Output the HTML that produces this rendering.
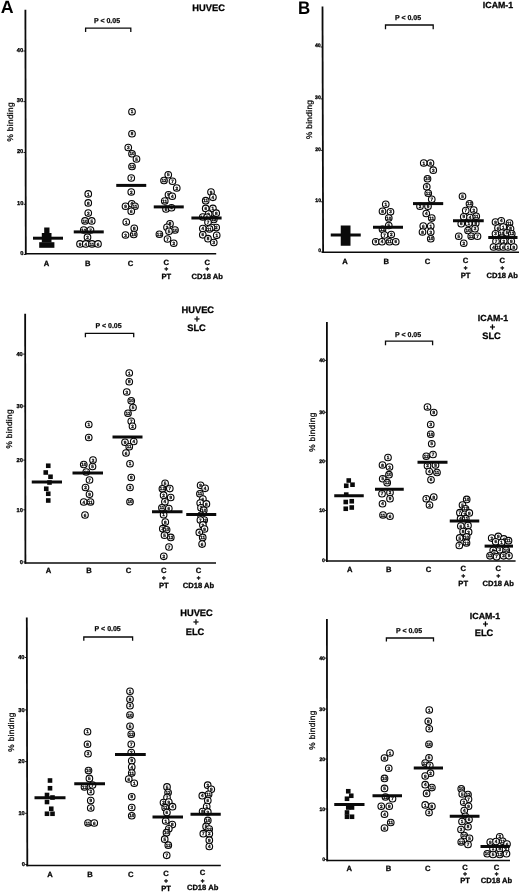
<!DOCTYPE html>
<html lang="en"><head><meta charset="utf-8"><title>Figure</title>
<style>
html,body{margin:0;padding:0;background:#fff;}
body{width:520px;height:892px;overflow:hidden;}
svg{display:block;font-family:"Liberation Sans",sans-serif;text-rendering:geometricPrecision;filter:blur(0.3px);}
.b{font-weight:bold;}
.t{font-size:9.3px;font-weight:bold;text-anchor:middle;stroke:#111;stroke-width:0.3;}
.p{font-size:7px;font-weight:bold;text-anchor:middle;stroke:#111;stroke-width:0.25;}
.x{font-size:7.6px;font-weight:bold;text-anchor:middle;stroke:#111;stroke-width:0.3;}
.k{font-size:5.7px;font-weight:bold;text-anchor:end;fill:#000;stroke:#000;stroke-width:0.3;}
.y{font-size:8.2px;text-anchor:middle;stroke:#111;stroke-width:0.3;letter-spacing:0.37px;}
.n{font-size:4.6px;font-weight:bold;text-anchor:middle;fill:#111;stroke:#111;stroke-width:0.3;}
.c{fill:#fff;stroke:#050505;stroke-width:1.12;}
.ax{stroke:#0a0a0a;fill:none;}
</style></head><body>
<svg width="520" height="892" viewBox="0 0 520 892">
<rect x="0" y="0" width="520" height="892" fill="#ffffff"/>
<text class="b" x="0.7" y="12.9" font-size="17.8">A</text>
<text class="b" transform="translate(298 13.8) scale(0.93 1)" font-size="18.2">B</text>
<g>
<line class="ax" x1="25.4" y1="9.8" x2="25.8" y2="254.5" stroke-width="1.8"/>
<line class="ax" x1="25" y1="253.7" x2="216.2" y2="253.7" stroke-width="1.5"/>
<line class="ax" x1="23.37" y1="51" x2="25.47" y2="51" stroke-width="0.9"/>
<text class="k" x="23.07" y="51.5">40</text>
<line class="ax" x1="23.45" y1="101.6" x2="25.55" y2="101.6" stroke-width="0.9"/>
<text class="k" x="23.15" y="102.1">30</text>
<line class="ax" x1="23.53" y1="152.5" x2="25.63" y2="152.5" stroke-width="0.9"/>
<text class="k" x="23.23" y="153">20</text>
<line class="ax" x1="23.62" y1="204.3" x2="25.72" y2="204.3" stroke-width="0.9"/>
<text class="k" x="23.32" y="204.8">10</text>
<line class="ax" x1="23.7" y1="254.5" x2="25.8" y2="254.5" stroke-width="0.9"/>
<text class="k" x="23.4" y="255">0</text>
<text class="y" transform="translate(13.2 121.8) rotate(-90)">% binding</text>
<text class="t" x="208.6" y="10.6">HUVEC</text>
<text class="p" x="107" y="22.8">P &lt; 0.05</text>
<path class="ax" stroke-width="1.3" d="M85.6 32 V28.1 H130.8 V32"/>
<text class="x" x="46.6" y="265.7">A</text>
<text class="x" x="87.8" y="265.7">B</text>
<text class="x" x="130.5" y="265.7">C</text>
<text class="x" x="166.3" y="264.6">C</text>
<text class="x" style="font-size:6.2px;stroke-width:0.5" x="166.3" y="271.2">+</text>
<text class="x" x="166.3" y="279.3">PT</text>
<text class="x" x="207.3" y="264.6">C</text>
<text class="x" style="font-size:6.2px;stroke-width:0.5" x="207.3" y="271.2">+</text>
<text class="x" x="207.3" y="279.3">CD18 Ab</text>
<rect x="44.2" y="227.5" width="5.3" height="6" fill="#0a0a0a"/>
<rect x="41.8" y="233" width="9.7" height="9.5" fill="#0a0a0a"/>
<rect x="39.2" y="242.2" width="15.2" height="5.6" fill="#0a0a0a"/>
<circle class="c" cx="88.25" cy="193.9" r="3.3"/><text class="n" x="88.25" y="195.5">1</text>
<circle class="c" cx="88.25" cy="202.9" r="3.3"/><text class="n" x="88.25" y="204.5">8</text>
<circle class="c" cx="88.25" cy="213.1" r="3.3"/><text class="n" x="88.25" y="214.7">3</text>
<circle class="c" cx="85" cy="220.9" r="3.3"/><text class="n" x="85" y="222.5">10</text>
<circle class="c" cx="91.75" cy="220.9" r="3.3"/><text class="n" x="91.75" y="222.5">5</text>
<circle class="c" cx="83.75" cy="230" r="3.3"/><text class="n" x="83.75" y="231.6">12</text>
<circle class="c" cx="90.5" cy="230" r="3.3"/><text class="n" x="90.5" y="231.6">7</text>
<circle class="c" cx="87.5" cy="237.2" r="3.3"/><text class="n" x="87.5" y="238.8">2</text>
<circle class="c" cx="80" cy="243.9" r="3.3"/><text class="n" x="80" y="245.5">9</text>
<circle class="c" cx="85.75" cy="243.9" r="3.3"/><text class="n" x="85.75" y="245.5">4</text>
<circle class="c" cx="92" cy="243.9" r="3.3"/><text class="n" x="92" y="245.5">11</text>
<circle class="c" cx="98" cy="243.9" r="3.3"/><text class="n" x="98" y="245.5">6</text>
<circle class="c" cx="132" cy="111.75" r="3.3"/><text class="n" x="132" y="113.35">1</text>
<circle class="c" cx="132" cy="133.75" r="3.3"/><text class="n" x="132" y="135.35">8</text>
<circle class="c" cx="128.25" cy="147.5" r="3.3"/><text class="n" x="128.25" y="149.1">3</text>
<circle class="c" cx="132" cy="153.75" r="3.3"/><text class="n" x="132" y="155.35">10</text>
<circle class="c" cx="136.5" cy="159" r="3.3"/><text class="n" x="136.5" y="160.6">5</text>
<circle class="c" cx="132" cy="166.5" r="3.3"/><text class="n" x="132" y="168.1">12</text>
<circle class="c" cx="131.25" cy="178" r="3.3"/><text class="n" x="131.25" y="179.6">7</text>
<circle class="c" cx="131.25" cy="192" r="3.3"/><text class="n" x="131.25" y="193.6">2</text>
<circle class="c" cx="125.5" cy="206.25" r="3.3"/><text class="n" x="125.5" y="207.85">9</text>
<circle class="c" cx="131.75" cy="203.75" r="3.3"/><text class="n" x="131.75" y="205.35">4</text>
<circle class="c" cx="135" cy="206.25" r="3.3"/><text class="n" x="135" y="207.85">11</text>
<circle class="c" cx="131.25" cy="211.25" r="3.3"/><text class="n" x="131.25" y="212.85">6</text>
<circle class="c" cx="126.25" cy="222" r="3.3"/><text class="n" x="126.25" y="223.6">1</text>
<circle class="c" cx="134.25" cy="228.25" r="3.3"/><text class="n" x="134.25" y="229.85">8</text>
<circle class="c" cx="125.5" cy="235" r="3.3"/><text class="n" x="125.5" y="236.6">3</text>
<circle class="c" cx="133.75" cy="234.5" r="3.3"/><text class="n" x="133.75" y="236.1">10</text>
<circle class="c" cx="168.25" cy="174.75" r="3.3"/><text class="n" x="168.25" y="176.35">5</text>
<circle class="c" cx="164" cy="180.5" r="3.3"/><text class="n" x="164" y="182.1">12</text>
<circle class="c" cx="172.5" cy="181.25" r="3.3"/><text class="n" x="172.5" y="182.85">7</text>
<circle class="c" cx="176.75" cy="188" r="3.3"/><text class="n" x="176.75" y="189.6">2</text>
<circle class="c" cx="168.5" cy="194.75" r="3.3"/><text class="n" x="168.5" y="196.35">9</text>
<circle class="c" cx="172.25" cy="196.25" r="3.3"/><text class="n" x="172.25" y="197.85">4</text>
<circle class="c" cx="164.75" cy="201" r="3.3"/><text class="n" x="164.75" y="202.6">11</text>
<circle class="c" cx="166" cy="209" r="3.3"/><text class="n" x="166" y="210.6">6</text>
<circle class="c" cx="171.5" cy="207.75" r="3.3"/><text class="n" x="171.5" y="209.35">1</text>
<circle class="c" cx="170" cy="223.75" r="3.3"/><text class="n" x="170" y="225.35">8</text>
<circle class="c" cx="167" cy="227.25" r="3.3"/><text class="n" x="167" y="228.85">3</text>
<circle class="c" cx="175" cy="230" r="3.3"/><text class="n" x="175" y="231.6">10</text>
<circle class="c" cx="169" cy="231.25" r="3.3"/><text class="n" x="169" y="232.85">5</text>
<circle class="c" cx="159.4" cy="234.25" r="3.3"/><text class="n" x="159.4" y="235.85">12</text>
<circle class="c" cx="167.5" cy="239" r="3.3"/><text class="n" x="167.5" y="240.6">7</text>
<circle class="c" cx="173.75" cy="243.25" r="3.3"/><text class="n" x="173.75" y="244.85">2</text>
<circle class="c" cx="211" cy="192" r="3.3"/><text class="n" x="211" y="193.6">9</text>
<circle class="c" cx="212.9" cy="197.3" r="3.3"/><text class="n" x="212.9" y="198.9">4</text>
<circle class="c" cx="205.7" cy="200.7" r="3.3"/><text class="n" x="205.7" y="202.3">11</text>
<circle class="c" cx="205.7" cy="208.4" r="3.3"/><text class="n" x="205.7" y="210">6</text>
<circle class="c" cx="212.9" cy="208.4" r="3.3"/><text class="n" x="212.9" y="210">1</text>
<circle class="c" cx="216.2" cy="213.2" r="3.3"/><text class="n" x="216.2" y="214.8">8</text>
<circle class="c" cx="208.6" cy="214.1" r="3.3"/><text class="n" x="208.6" y="215.7">3</text>
<circle class="c" cx="202.8" cy="217" r="3.3"/><text class="n" x="202.8" y="218.6">10</text>
<circle class="c" cx="207.1" cy="217.3" r="3.3"/><text class="n" x="207.1" y="218.9">5</text>
<circle class="c" cx="213.8" cy="219.4" r="3.3"/><text class="n" x="213.8" y="221">12</text>
<circle class="c" cx="208" cy="222.3" r="3.3"/><text class="n" x="208" y="223.9">7</text>
<circle class="c" cx="216.2" cy="227.6" r="3.3"/><text class="n" x="216.2" y="229.2">2</text>
<circle class="c" cx="211.5" cy="227.5" r="3.3"/><text class="n" x="211.5" y="229.1">9</text>
<circle class="c" cx="202.8" cy="228.6" r="3.3"/><text class="n" x="202.8" y="230.2">4</text>
<circle class="c" cx="209.5" cy="229" r="3.3"/><text class="n" x="209.5" y="230.6">11</text>
<circle class="c" cx="202.8" cy="234.8" r="3.3"/><text class="n" x="202.8" y="236.4">6</text>
<circle class="c" cx="216.7" cy="235.3" r="3.3"/><text class="n" x="216.7" y="236.9">1</text>
<circle class="c" cx="208" cy="238.7" r="3.3"/><text class="n" x="208" y="240.3">8</text>
<circle class="c" cx="213.8" cy="242.5" r="3.3"/><text class="n" x="213.8" y="244.1">3</text>
<line class="ax" x1="33" y1="238.2" x2="63" y2="238.2" stroke-width="3"/>
<line class="ax" x1="73.75" y1="231.9" x2="103.75" y2="231.9" stroke-width="3"/>
<line class="ax" x1="116.25" y1="185.4" x2="146.25" y2="185.4" stroke-width="3"/>
<line class="ax" x1="153.75" y1="206.9" x2="183.75" y2="206.9" stroke-width="3"/>
<line class="ax" x1="191.4" y1="218" x2="221.6" y2="218" stroke-width="3"/>
</g>
<g>
<line class="ax" x1="25.15" y1="313.8" x2="25.4" y2="563.7" stroke-width="1.8"/>
<line class="ax" x1="24.6" y1="562.9" x2="216" y2="562.9" stroke-width="1.5"/>
<line class="ax" x1="23.09" y1="354.1" x2="25.19" y2="354.1" stroke-width="0.9"/>
<text class="k" x="22.79" y="355.8">40</text>
<line class="ax" x1="23.14" y1="406.1" x2="25.24" y2="406.1" stroke-width="0.9"/>
<text class="k" x="22.84" y="407.8">30</text>
<line class="ax" x1="23.2" y1="460.1" x2="25.3" y2="460.1" stroke-width="0.9"/>
<text class="k" x="22.9" y="461.8">20</text>
<line class="ax" x1="23.25" y1="509.8" x2="25.35" y2="509.8" stroke-width="0.9"/>
<text class="k" x="22.95" y="511.5">10</text>
<line class="ax" x1="23.3" y1="561.9" x2="25.4" y2="561.9" stroke-width="0.9"/>
<text class="k" x="23" y="563.6">0</text>
<text class="y" transform="translate(12.4 428.8) rotate(-90)">% binding</text>
<text class="t" x="197.8" y="313.1">HUVEC</text>
<text class="t" x="197" y="321.6">+</text>
<text class="t" x="196.5" y="330.6">SLC</text>
<text class="p" x="108.6" y="328.1">P &lt; 0.05</text>
<path class="ax" stroke-width="1.3" d="M85.4 337.2 V333.4 H133.7 V337.2"/>
<text class="x" x="48.5" y="572.7">A</text>
<text class="x" x="89" y="572.7">B</text>
<text class="x" x="128.5" y="572.7">C</text>
<text class="x" x="163.8" y="572.8">C</text>
<text class="x" style="font-size:6.2px;stroke-width:0.5" x="163.8" y="580">+</text>
<text class="x" x="163.8" y="587.6">PT</text>
<text class="x" x="198.5" y="572.8">C</text>
<text class="x" style="font-size:6.2px;stroke-width:0.5" x="198.5" y="580">+</text>
<text class="x" x="198.5" y="587.6">CD18 Ab</text>
<rect x="45.95" y="463.45" width="4.6" height="4.6" fill="#0a0a0a"/>
<rect x="43.45" y="470.2" width="4.6" height="4.6" fill="#0a0a0a"/>
<rect x="48.2" y="474.45" width="4.6" height="4.6" fill="#0a0a0a"/>
<rect x="47.2" y="480.2" width="4.6" height="4.6" fill="#0a0a0a"/>
<rect x="43.95" y="486.45" width="4.6" height="4.6" fill="#0a0a0a"/>
<rect x="45.95" y="491.45" width="4.6" height="4.6" fill="#0a0a0a"/>
<rect x="45.95" y="498.2" width="4.6" height="4.6" fill="#0a0a0a"/>
<circle class="c" cx="88.75" cy="424.5" r="3.3"/><text class="n" x="88.75" y="426.1">1</text>
<circle class="c" cx="88.75" cy="437.5" r="3.3"/><text class="n" x="88.75" y="439.1">8</text>
<circle class="c" cx="93" cy="460" r="3.3"/><text class="n" x="93" y="461.6">3</text>
<circle class="c" cx="83.75" cy="464.5" r="3.3"/><text class="n" x="83.75" y="466.1">10</text>
<circle class="c" cx="92.5" cy="466.5" r="3.3"/><text class="n" x="92.5" y="468.1">5</text>
<circle class="c" cx="86.25" cy="472" r="3.3"/><text class="n" x="86.25" y="473.6">12</text>
<circle class="c" cx="89.5" cy="480" r="3.3"/><text class="n" x="89.5" y="481.6">7</text>
<circle class="c" cx="85.5" cy="487.5" r="3.3"/><text class="n" x="85.5" y="489.1">2</text>
<circle class="c" cx="89.5" cy="494.25" r="3.3"/><text class="n" x="89.5" y="495.85">9</text>
<circle class="c" cx="83.75" cy="502" r="3.3"/><text class="n" x="83.75" y="503.6">4</text>
<circle class="c" cx="90.5" cy="502" r="3.3"/><text class="n" x="90.5" y="503.6">11</text>
<circle class="c" cx="85" cy="515" r="3.3"/><text class="n" x="85" y="516.6">6</text>
<circle class="c" cx="129.25" cy="373" r="3.3"/><text class="n" x="129.25" y="374.6">1</text>
<circle class="c" cx="129.25" cy="381.75" r="3.3"/><text class="n" x="129.25" y="383.35">8</text>
<circle class="c" cx="126.75" cy="392" r="3.3"/><text class="n" x="126.75" y="393.6">3</text>
<circle class="c" cx="131.25" cy="400.75" r="3.3"/><text class="n" x="131.25" y="402.35">10</text>
<circle class="c" cx="133" cy="407.5" r="3.3"/><text class="n" x="133" y="409.1">5</text>
<circle class="c" cx="128" cy="413.25" r="3.3"/><text class="n" x="128" y="414.85">12</text>
<circle class="c" cx="131.25" cy="421.25" r="3.3"/><text class="n" x="131.25" y="422.85">7</text>
<circle class="c" cx="132.5" cy="426.25" r="3.3"/><text class="n" x="132.5" y="427.85">2</text>
<circle class="c" cx="125" cy="442.25" r="3.3"/><text class="n" x="125" y="443.85">9</text>
<circle class="c" cx="133.75" cy="441.5" r="3.3"/><text class="n" x="133.75" y="443.1">4</text>
<circle class="c" cx="129.25" cy="446.75" r="3.3"/><text class="n" x="129.25" y="448.35">11</text>
<circle class="c" cx="126" cy="453" r="3.3"/><text class="n" x="126" y="454.6">6</text>
<circle class="c" cx="130" cy="463.75" r="3.3"/><text class="n" x="130" y="465.35">1</text>
<circle class="c" cx="131.25" cy="477.5" r="3.3"/><text class="n" x="131.25" y="479.1">8</text>
<circle class="c" cx="130" cy="487.5" r="3.3"/><text class="n" x="130" y="489.1">3</text>
<circle class="c" cx="130" cy="501.75" r="3.3"/><text class="n" x="130" y="503.35">10</text>
<circle class="c" cx="165.1" cy="483.3" r="3.3"/><text class="n" x="165.1" y="484.9">5</text>
<circle class="c" cx="162.4" cy="488.8" r="3.3"/><text class="n" x="162.4" y="490.4">12</text>
<circle class="c" cx="169.8" cy="488.6" r="3.3"/><text class="n" x="169.8" y="490.2">7</text>
<circle class="c" cx="163.6" cy="495.2" r="3.3"/><text class="n" x="163.6" y="496.8">2</text>
<circle class="c" cx="170.7" cy="497.5" r="3.3"/><text class="n" x="170.7" y="499.1">9</text>
<circle class="c" cx="164.9" cy="501.8" r="3.3"/><text class="n" x="164.9" y="503.4">4</text>
<circle class="c" cx="161.9" cy="507.8" r="3.3"/><text class="n" x="161.9" y="509.4">11</text>
<circle class="c" cx="168.8" cy="508.5" r="3.3"/><text class="n" x="168.8" y="510.1">6</text>
<circle class="c" cx="163.6" cy="514.7" r="3.3"/><text class="n" x="163.6" y="516.3">1</text>
<circle class="c" cx="165.3" cy="522.1" r="3.3"/><text class="n" x="165.3" y="523.7">8</text>
<circle class="c" cx="162.8" cy="528.7" r="3.3"/><text class="n" x="162.8" y="530.3">3</text>
<circle class="c" cx="166.6" cy="529.8" r="3.3"/><text class="n" x="166.6" y="531.4">10</text>
<circle class="c" cx="164.5" cy="535.2" r="3.3"/><text class="n" x="164.5" y="536.8">5</text>
<circle class="c" cx="170.8" cy="537.4" r="3.3"/><text class="n" x="170.8" y="539">12</text>
<circle class="c" cx="169" cy="547" r="3.3"/><text class="n" x="169" y="548.6">7</text>
<circle class="c" cx="163.8" cy="556.3" r="3.3"/><text class="n" x="163.8" y="557.9">2</text>
<circle class="c" cx="200.6" cy="485.3" r="3.3"/><text class="n" x="200.6" y="486.9">9</text>
<circle class="c" cx="205.1" cy="488.3" r="3.3"/><text class="n" x="205.1" y="489.9">4</text>
<circle class="c" cx="199.9" cy="493.8" r="3.3"/><text class="n" x="199.9" y="495.4">11</text>
<circle class="c" cx="202.9" cy="499" r="3.3"/><text class="n" x="202.9" y="500.6">6</text>
<circle class="c" cx="200.2" cy="503" r="3.3"/><text class="n" x="200.2" y="504.6">1</text>
<circle class="c" cx="206.4" cy="503.9" r="3.3"/><text class="n" x="206.4" y="505.5">8</text>
<circle class="c" cx="201" cy="507.8" r="3.3"/><text class="n" x="201" y="509.4">3</text>
<circle class="c" cx="203.8" cy="510.2" r="3.3"/><text class="n" x="203.8" y="511.8">10</text>
<circle class="c" cx="201" cy="515.3" r="3.3"/><text class="n" x="201" y="516.9">5</text>
<circle class="c" cx="204.2" cy="520.1" r="3.3"/><text class="n" x="204.2" y="521.7">12</text>
<circle class="c" cx="200.4" cy="520.1" r="3.3"/><text class="n" x="200.4" y="521.7">7</text>
<circle class="c" cx="202.9" cy="524.9" r="3.3"/><text class="n" x="202.9" y="526.5">2</text>
<circle class="c" cx="204.5" cy="529" r="3.3"/><text class="n" x="204.5" y="530.6">9</text>
<circle class="c" cx="199.3" cy="532.4" r="3.3"/><text class="n" x="199.3" y="534">4</text>
<circle class="c" cx="202.7" cy="537.4" r="3.3"/><text class="n" x="202.7" y="539">11</text>
<circle class="c" cx="202.1" cy="544.1" r="3.3"/><text class="n" x="202.1" y="545.7">6</text>
<line class="ax" x1="31.75" y1="482" x2="62" y2="482" stroke-width="3"/>
<line class="ax" x1="72.5" y1="473" x2="103" y2="473" stroke-width="3"/>
<line class="ax" x1="112.5" y1="437" x2="142.5" y2="437" stroke-width="3"/>
<line class="ax" x1="152" y1="511.75" x2="182.5" y2="511.75" stroke-width="3"/>
<line class="ax" x1="186.25" y1="514.5" x2="216.25" y2="514.5" stroke-width="3"/>
</g>
<g>
<line class="ax" x1="26.8" y1="617.4" x2="27.3" y2="866.2" stroke-width="1.8"/>
<line class="ax" x1="26.4" y1="865.4" x2="220.8" y2="865.4" stroke-width="1.5"/>
<line class="ax" x1="24.78" y1="657.5" x2="26.88" y2="657.5" stroke-width="0.9"/>
<text class="k" x="24.48" y="659.2">40</text>
<line class="ax" x1="24.89" y1="709.9" x2="26.99" y2="709.9" stroke-width="0.9"/>
<text class="k" x="24.59" y="711.6">30</text>
<line class="ax" x1="24.99" y1="761.6" x2="27.09" y2="761.6" stroke-width="0.9"/>
<text class="k" x="24.69" y="763.3">20</text>
<line class="ax" x1="25.09" y1="813.3" x2="27.19" y2="813.3" stroke-width="0.9"/>
<text class="k" x="24.79" y="815">10</text>
<line class="ax" x1="25.2" y1="864.5" x2="27.3" y2="864.5" stroke-width="0.9"/>
<text class="k" x="24.9" y="866.2">0</text>
<text class="y" transform="translate(14.2 732) rotate(-90)">% binding</text>
<text class="t" x="196.5" y="616.4">HUVEC</text>
<text class="t" x="196" y="625.1">+</text>
<text class="t" x="195" y="634.9">ELC</text>
<text class="p" x="107.7" y="630.6">P &lt; 0.05</text>
<path class="ax" stroke-width="1.3" d="M83.8 640.8 V637 H132.6 V640.8"/>
<text class="x" x="50" y="876.6">A</text>
<text class="x" x="90" y="876.6">B</text>
<text class="x" x="130.8" y="876.6">C</text>
<text class="x" x="166" y="876.3">C</text>
<text class="x" style="font-size:6.2px;stroke-width:0.5" x="166" y="883.3">+</text>
<text class="x" x="166" y="890.6">PT</text>
<text class="x" x="202.6" y="874.8">C</text>
<text class="x" style="font-size:6.2px;stroke-width:0.5" x="202.6" y="882.6">+</text>
<text class="x" x="202.6" y="890.2">CD18 Ab</text>
<rect x="47.7" y="778.2" width="4.6" height="4.6" fill="#0a0a0a"/>
<rect x="47.7" y="785.95" width="4.6" height="4.6" fill="#0a0a0a"/>
<rect x="44.7" y="792.7" width="4.6" height="4.6" fill="#0a0a0a"/>
<rect x="50.2" y="795.2" width="4.6" height="4.6" fill="#0a0a0a"/>
<rect x="44.7" y="799.7" width="4.6" height="4.6" fill="#0a0a0a"/>
<rect x="48.95" y="806.45" width="4.6" height="4.6" fill="#0a0a0a"/>
<rect x="44.7" y="811.45" width="4.6" height="4.6" fill="#0a0a0a"/>
<rect x="50.2" y="811.45" width="4.6" height="4.6" fill="#0a0a0a"/>
<circle class="c" cx="87.5" cy="731.75" r="3.3"/><text class="n" x="87.5" y="733.35">1</text>
<circle class="c" cx="87.5" cy="744.25" r="3.3"/><text class="n" x="87.5" y="745.85">8</text>
<circle class="c" cx="88" cy="753.75" r="3.3"/><text class="n" x="88" y="755.35">3</text>
<circle class="c" cx="88.5" cy="770.5" r="3.3"/><text class="n" x="88.5" y="772.1">10</text>
<circle class="c" cx="89.4" cy="778.4" r="3.3"/><text class="n" x="89.4" y="780">5</text>
<circle class="c" cx="84.5" cy="787" r="3.3"/><text class="n" x="84.5" y="788.6">12</text>
<circle class="c" cx="92.5" cy="785" r="3.3"/><text class="n" x="92.5" y="786.6">7</text>
<circle class="c" cx="90.75" cy="791.75" r="3.3"/><text class="n" x="90.75" y="793.35">2</text>
<circle class="c" cx="90.75" cy="800.5" r="3.3"/><text class="n" x="90.75" y="802.1">9</text>
<circle class="c" cx="90.75" cy="808" r="3.3"/><text class="n" x="90.75" y="809.6">4</text>
<circle class="c" cx="88" cy="823" r="3.3"/><text class="n" x="88" y="824.6">11</text>
<circle class="c" cx="94.25" cy="823" r="3.3"/><text class="n" x="94.25" y="824.6">6</text>
<circle class="c" cx="130" cy="691.25" r="3.3"/><text class="n" x="130" y="692.85">1</text>
<circle class="c" cx="130" cy="699.25" r="3.3"/><text class="n" x="130" y="700.85">8</text>
<circle class="c" cx="130" cy="705.75" r="3.3"/><text class="n" x="130" y="707.35">3</text>
<circle class="c" cx="130" cy="715" r="3.3"/><text class="n" x="130" y="716.6">10</text>
<circle class="c" cx="130" cy="726.25" r="3.3"/><text class="n" x="130" y="727.85">5</text>
<circle class="c" cx="131.25" cy="734.25" r="3.3"/><text class="n" x="131.25" y="735.85">12</text>
<circle class="c" cx="131.25" cy="744.25" r="3.3"/><text class="n" x="131.25" y="745.85">7</text>
<circle class="c" cx="131.25" cy="752.5" r="3.3"/><text class="n" x="131.25" y="754.1">2</text>
<circle class="c" cx="131.75" cy="760.75" r="3.3"/><text class="n" x="131.75" y="762.35">9</text>
<circle class="c" cx="131.75" cy="767" r="3.3"/><text class="n" x="131.75" y="768.6">4</text>
<circle class="c" cx="131.75" cy="773.1" r="3.3"/><text class="n" x="131.75" y="774.7">11</text>
<circle class="c" cx="128.75" cy="779" r="3.3"/><text class="n" x="128.75" y="780.6">6</text>
<circle class="c" cx="134.25" cy="783.25" r="3.3"/><text class="n" x="134.25" y="784.85">1</text>
<circle class="c" cx="131.75" cy="796.75" r="3.3"/><text class="n" x="131.75" y="798.35">8</text>
<circle class="c" cx="131.75" cy="807.5" r="3.3"/><text class="n" x="131.75" y="809.1">3</text>
<circle class="c" cx="131.75" cy="815.75" r="3.3"/><text class="n" x="131.75" y="817.35">10</text>
<circle class="c" cx="167" cy="786.9" r="3.3"/><text class="n" x="167" y="788.5">5</text>
<circle class="c" cx="168.1" cy="792.5" r="3.3"/><text class="n" x="168.1" y="794.1">12</text>
<circle class="c" cx="167" cy="797.6" r="3.3"/><text class="n" x="167" y="799.2">7</text>
<circle class="c" cx="163.5" cy="802.6" r="3.3"/><text class="n" x="163.5" y="804.2">2</text>
<circle class="c" cx="168.8" cy="802" r="3.3"/><text class="n" x="168.8" y="803.6">9</text>
<circle class="c" cx="172.5" cy="806.7" r="3.3"/><text class="n" x="172.5" y="808.3">4</text>
<circle class="c" cx="165.2" cy="807.7" r="3.3"/><text class="n" x="165.2" y="809.3">11</text>
<circle class="c" cx="166.9" cy="812.5" r="3.3"/><text class="n" x="166.9" y="814.1">6</text>
<circle class="c" cx="165.7" cy="821" r="3.3"/><text class="n" x="165.7" y="822.6">1</text>
<circle class="c" cx="172.3" cy="824.6" r="3.3"/><text class="n" x="172.3" y="826.2">8</text>
<circle class="c" cx="168.8" cy="828.8" r="3.3"/><text class="n" x="168.8" y="830.4">3</text>
<circle class="c" cx="166.5" cy="832.7" r="3.3"/><text class="n" x="166.5" y="834.3">10</text>
<circle class="c" cx="164.7" cy="839.2" r="3.3"/><text class="n" x="164.7" y="840.8">5</text>
<circle class="c" cx="168.3" cy="845.2" r="3.3"/><text class="n" x="168.3" y="846.8">12</text>
<circle class="c" cx="166.7" cy="855.3" r="3.3"/><text class="n" x="166.7" y="856.9">7</text>
<circle class="c" cx="207.7" cy="785.2" r="3.3"/><text class="n" x="207.7" y="786.8">2</text>
<circle class="c" cx="211.3" cy="789.3" r="3.3"/><text class="n" x="211.3" y="790.9">9</text>
<circle class="c" cx="202.3" cy="795.7" r="3.3"/><text class="n" x="202.3" y="797.3">4</text>
<circle class="c" cx="208.6" cy="794.3" r="3.3"/><text class="n" x="208.6" y="795.9">11</text>
<circle class="c" cx="207.8" cy="800.5" r="3.3"/><text class="n" x="207.8" y="802.1">6</text>
<circle class="c" cx="206.7" cy="806.5" r="3.3"/><text class="n" x="206.7" y="808.1">1</text>
<circle class="c" cx="202.6" cy="811.5" r="3.3"/><text class="n" x="202.6" y="813.1">8</text>
<circle class="c" cx="207.8" cy="811.9" r="3.3"/><text class="n" x="207.8" y="813.5">3</text>
<circle class="c" cx="207.8" cy="820.4" r="3.3"/><text class="n" x="207.8" y="822">10</text>
<circle class="c" cx="206.1" cy="826.4" r="3.3"/><text class="n" x="206.1" y="828">5</text>
<circle class="c" cx="209.2" cy="829.1" r="3.3"/><text class="n" x="209.2" y="830.7">12</text>
<circle class="c" cx="203.3" cy="833.7" r="3.3"/><text class="n" x="203.3" y="835.3">7</text>
<circle class="c" cx="209.3" cy="833.7" r="3.3"/><text class="n" x="209.3" y="835.3">2</text>
<circle class="c" cx="209.3" cy="840.2" r="3.3"/><text class="n" x="209.3" y="841.8">9</text>
<circle class="c" cx="209.3" cy="846.5" r="3.3"/><text class="n" x="209.3" y="848.1">4</text>
<line class="ax" x1="34.5" y1="797.75" x2="65.5" y2="797.75" stroke-width="3"/>
<line class="ax" x1="74.25" y1="783.75" x2="105" y2="783.75" stroke-width="3"/>
<line class="ax" x1="115" y1="754.5" x2="145.75" y2="754.5" stroke-width="3"/>
<line class="ax" x1="152.5" y1="817" x2="183" y2="817" stroke-width="3"/>
<line class="ax" x1="190.5" y1="814.25" x2="220.75" y2="814.25" stroke-width="3"/>
</g>
<g>
<line class="ax" x1="322.5" y1="6.4" x2="323.1" y2="253" stroke-width="1.8"/>
<line class="ax" x1="322.3" y1="252.2" x2="519" y2="252.2" stroke-width="1.5"/>
<line class="ax" x1="320.5" y1="47" x2="322.6" y2="47" stroke-width="0.9"/>
<text class="k" style="font-size:5.1px" x="320.6" y="47.2">40</text>
<line class="ax" x1="320.62" y1="98.9" x2="322.72" y2="98.9" stroke-width="0.9"/>
<text class="k" style="font-size:5.1px" x="320.72" y="99.1">30</text>
<line class="ax" x1="320.75" y1="150.4" x2="322.85" y2="150.4" stroke-width="0.9"/>
<text class="k" style="font-size:5.1px" x="320.85" y="150.6">20</text>
<line class="ax" x1="320.87" y1="201.8" x2="322.97" y2="201.8" stroke-width="0.9"/>
<text class="k" style="font-size:5.1px" x="320.97" y="202">10</text>
<line class="ax" x1="321" y1="252" x2="323.1" y2="252" stroke-width="0.9"/>
<text class="k" style="font-size:5.1px" x="321.1" y="252.2">0</text>
<text class="y" transform="translate(311.6 119.4) rotate(-90)">% binding</text>
<text class="t" style="font-size:8.8px" x="498" y="8">ICAM-1</text>
<text class="p" x="408" y="20.4">P &lt; 0.05</text>
<path class="ax" stroke-width="1.3" d="M385.5 29.3 V25 H433.2 V29.3"/>
<text class="x" x="345" y="263.7">A</text>
<text class="x" x="386.3" y="263.7">B</text>
<text class="x" x="427.5" y="263.7">C</text>
<text class="x" x="465.6" y="262.8">C</text>
<text class="x" style="font-size:6.2px;stroke-width:0.5" x="465.6" y="270">+</text>
<text class="x" x="465.6" y="277.7">PT</text>
<text class="x" x="502.3" y="262.8">C</text>
<text class="x" style="font-size:6.2px;stroke-width:0.5" x="502.3" y="270">+</text>
<text class="x" x="502.3" y="277.7">CD18 Ab</text>
<rect x="340.75" y="225.5" width="9.75" height="20.25" fill="#0a0a0a"/>
<circle class="c" cx="385.75" cy="204.25" r="3.3"/><text class="n" x="385.75" y="205.85">1</text>
<circle class="c" cx="382.5" cy="211.25" r="3.3"/><text class="n" x="382.5" y="212.85">8</text>
<circle class="c" cx="390.5" cy="211.75" r="3.3"/><text class="n" x="390.5" y="213.35">3</text>
<circle class="c" cx="388.75" cy="218" r="3.3"/><text class="n" x="388.75" y="219.6">10</text>
<circle class="c" cx="388.75" cy="225.5" r="3.3"/><text class="n" x="388.75" y="227.1">5</text>
<circle class="c" cx="382.5" cy="229.25" r="3.3"/><text class="n" x="382.5" y="230.85">12</text>
<circle class="c" cx="384.5" cy="235" r="3.3"/><text class="n" x="384.5" y="236.6">7</text>
<circle class="c" cx="391.25" cy="234.5" r="3.3"/><text class="n" x="391.25" y="236.1">2</text>
<circle class="c" cx="375.75" cy="241.75" r="3.3"/><text class="n" x="375.75" y="243.35">9</text>
<circle class="c" cx="382" cy="241.75" r="3.3"/><text class="n" x="382" y="243.35">4</text>
<circle class="c" cx="389.5" cy="241.75" r="3.3"/><text class="n" x="389.5" y="243.35">11</text>
<circle class="c" cx="395.75" cy="241.75" r="3.3"/><text class="n" x="395.75" y="243.35">6</text>
<circle class="c" cx="423.75" cy="163" r="3.3"/><text class="n" x="423.75" y="164.6">1</text>
<circle class="c" cx="430.5" cy="163" r="3.3"/><text class="n" x="430.5" y="164.6">8</text>
<circle class="c" cx="433.25" cy="170.2" r="3.3"/><text class="n" x="433.25" y="171.8">3</text>
<circle class="c" cx="427.5" cy="178.75" r="3.3"/><text class="n" x="427.5" y="180.35">10</text>
<circle class="c" cx="426.75" cy="186.75" r="3.3"/><text class="n" x="426.75" y="188.35">5</text>
<circle class="c" cx="428.25" cy="193.25" r="3.3"/><text class="n" x="428.25" y="194.85">12</text>
<circle class="c" cx="431.75" cy="199.25" r="3.3"/><text class="n" x="431.75" y="200.85">7</text>
<circle class="c" cx="420" cy="206.25" r="3.3"/><text class="n" x="420" y="207.85">2</text>
<circle class="c" cx="428" cy="206.25" r="3.3"/><text class="n" x="428" y="207.85">9</text>
<circle class="c" cx="426.25" cy="213.5" r="3.3"/><text class="n" x="426.25" y="215.1">4</text>
<circle class="c" cx="431.75" cy="218.1" r="3.3"/><text class="n" x="431.75" y="219.7">11</text>
<circle class="c" cx="423.25" cy="226" r="3.3"/><text class="n" x="423.25" y="227.6">6</text>
<circle class="c" cx="430.75" cy="226" r="3.3"/><text class="n" x="430.75" y="227.6">1</text>
<circle class="c" cx="422.5" cy="232" r="3.3"/><text class="n" x="422.5" y="233.6">8</text>
<circle class="c" cx="430.75" cy="232" r="3.3"/><text class="n" x="430.75" y="233.6">3</text>
<circle class="c" cx="430.75" cy="238.75" r="3.3"/><text class="n" x="430.75" y="240.35">10</text>
<circle class="c" cx="462.5" cy="196.25" r="3.3"/><text class="n" x="462.5" y="197.85">5</text>
<circle class="c" cx="469.5" cy="203.75" r="3.3"/><text class="n" x="469.5" y="205.35">12</text>
<circle class="c" cx="465.75" cy="210.5" r="3.3"/><text class="n" x="465.75" y="212.1">7</text>
<circle class="c" cx="473.75" cy="210" r="3.3"/><text class="n" x="473.75" y="211.6">2</text>
<circle class="c" cx="463.75" cy="216.75" r="3.3"/><text class="n" x="463.75" y="218.35">9</text>
<circle class="c" cx="470" cy="217.5" r="3.3"/><text class="n" x="470" y="219.1">4</text>
<circle class="c" cx="476.25" cy="216.25" r="3.3"/><text class="n" x="476.25" y="217.85">11</text>
<circle class="c" cx="461.25" cy="223.75" r="3.3"/><text class="n" x="461.25" y="225.35">6</text>
<circle class="c" cx="468.75" cy="223.25" r="3.3"/><text class="n" x="468.75" y="224.85">1</text>
<circle class="c" cx="475.75" cy="223.25" r="3.3"/><text class="n" x="475.75" y="224.85">8</text>
<circle class="c" cx="475" cy="228.75" r="3.3"/><text class="n" x="475" y="230.35">3</text>
<circle class="c" cx="468" cy="230.5" r="3.3"/><text class="n" x="468" y="232.1">10</text>
<circle class="c" cx="458.75" cy="236.25" r="3.3"/><text class="n" x="458.75" y="237.85">5</text>
<circle class="c" cx="471.25" cy="236.25" r="3.3"/><text class="n" x="471.25" y="237.85">12</text>
<circle class="c" cx="477.5" cy="236.25" r="3.3"/><text class="n" x="477.5" y="237.85">7</text>
<circle class="c" cx="463.75" cy="243.25" r="3.3"/><text class="n" x="463.75" y="244.85">2</text>
<circle class="c" cx="495.5" cy="222" r="3.3"/><text class="n" x="495.5" y="223.6">9</text>
<circle class="c" cx="501.25" cy="220.75" r="3.3"/><text class="n" x="501.25" y="222.35">4</text>
<circle class="c" cx="509.5" cy="223" r="3.3"/><text class="n" x="509.5" y="224.6">11</text>
<circle class="c" cx="498" cy="228" r="3.3"/><text class="n" x="498" y="229.6">6</text>
<circle class="c" cx="503.25" cy="227" r="3.3"/><text class="n" x="503.25" y="228.6">1</text>
<circle class="c" cx="510.5" cy="228.75" r="3.3"/><text class="n" x="510.5" y="230.35">8</text>
<circle class="c" cx="495.5" cy="233.75" r="3.3"/><text class="n" x="495.5" y="235.35">3</text>
<circle class="c" cx="501.75" cy="233" r="3.3"/><text class="n" x="501.75" y="234.6">10</text>
<circle class="c" cx="507" cy="232.75" r="3.3"/><text class="n" x="507" y="234.35">5</text>
<circle class="c" cx="511.75" cy="233.75" r="3.3"/><text class="n" x="511.75" y="235.35">12</text>
<circle class="c" cx="496" cy="241.25" r="3.3"/><text class="n" x="496" y="242.85">7</text>
<circle class="c" cx="503.75" cy="241" r="3.3"/><text class="n" x="503.75" y="242.6">2</text>
<circle class="c" cx="511.25" cy="241.25" r="3.3"/><text class="n" x="511.25" y="242.85">9</text>
<circle class="c" cx="493.5" cy="247" r="3.3"/><text class="n" x="493.5" y="248.6">4</text>
<circle class="c" cx="498.75" cy="247" r="3.3"/><text class="n" x="498.75" y="248.6">11</text>
<circle class="c" cx="503.25" cy="247" r="3.3"/><text class="n" x="503.25" y="248.6">6</text>
<circle class="c" cx="508" cy="247" r="3.3"/><text class="n" x="508" y="248.6">1</text>
<circle class="c" cx="513.75" cy="247" r="3.3"/><text class="n" x="513.75" y="248.6">8</text>
<line class="ax" x1="330.75" y1="235" x2="360.75" y2="235" stroke-width="3"/>
<line class="ax" x1="373" y1="227.25" x2="403" y2="227.25" stroke-width="3"/>
<line class="ax" x1="413" y1="203.6" x2="443.2" y2="203.6" stroke-width="3"/>
<line class="ax" x1="453" y1="220.75" x2="483.75" y2="220.75" stroke-width="3"/>
<line class="ax" x1="488.25" y1="237.5" x2="517.5" y2="237.5" stroke-width="3"/>
</g>
<g>
<line class="ax" x1="326.9" y1="322" x2="326.9" y2="561.9" stroke-width="1.8"/>
<line class="ax" x1="326.3" y1="561.1" x2="515.6" y2="561.1" stroke-width="1.5"/>
<line class="ax" x1="324.8" y1="360.4" x2="326.9" y2="360.4" stroke-width="0.9"/>
<text class="k" style="font-size:5.1px" x="324.9" y="361.9">40</text>
<line class="ax" x1="324.8" y1="412.3" x2="326.9" y2="412.3" stroke-width="0.9"/>
<text class="k" style="font-size:5.1px" x="324.9" y="413.8">30</text>
<line class="ax" x1="324.8" y1="461" x2="326.9" y2="461" stroke-width="0.9"/>
<text class="k" style="font-size:5.1px" x="324.9" y="462.5">20</text>
<line class="ax" x1="324.8" y1="510.5" x2="326.9" y2="510.5" stroke-width="0.9"/>
<text class="k" style="font-size:5.1px" x="324.9" y="512">10</text>
<line class="ax" x1="324.8" y1="560.1" x2="326.9" y2="560.1" stroke-width="0.9"/>
<text class="k" style="font-size:5.1px" x="324.9" y="561.6">0</text>
<text class="y" transform="translate(315.3 432.1) rotate(-90)">% binding</text>
<text class="t" style="font-size:8.8px" x="493" y="321.4">ICAM-1</text>
<text class="t" x="492.5" y="329.6">+</text>
<text class="t" x="491.5" y="338.8">SLC</text>
<text class="p" x="408.1" y="337.3">P &lt; 0.05</text>
<path class="ax" stroke-width="1.3" d="M385.5 345.2 V341.2 H432.6 V345.2"/>
<text class="x" x="349.8" y="572.2">A</text>
<text class="x" x="388.75" y="572.2">B</text>
<text class="x" x="428.5" y="572.2">C</text>
<text class="x" x="463.2" y="571.2">C</text>
<text class="x" style="font-size:6.2px;stroke-width:0.5" x="463.2" y="578.2">+</text>
<text class="x" x="463.2" y="585.6">PT</text>
<text class="x" x="498.2" y="571.2">C</text>
<text class="x" style="font-size:6.2px;stroke-width:0.5" x="498.2" y="578.2">+</text>
<text class="x" x="498.2" y="585.6">CD18 Ab</text>
<rect x="346.45" y="478.2" width="4.6" height="4.6" fill="#0a0a0a"/>
<rect x="343.95" y="483.45" width="4.6" height="4.6" fill="#0a0a0a"/>
<rect x="350.2" y="482.4" width="4.6" height="4.6" fill="#0a0a0a"/>
<rect x="343.95" y="492.3" width="4.6" height="4.6" fill="#0a0a0a"/>
<rect x="343.45" y="499.7" width="4.6" height="4.6" fill="#0a0a0a"/>
<rect x="349.45" y="498.95" width="4.6" height="4.6" fill="#0a0a0a"/>
<rect x="343.45" y="506.45" width="4.6" height="4.6" fill="#0a0a0a"/>
<rect x="349.45" y="505.2" width="4.6" height="4.6" fill="#0a0a0a"/>
<circle class="c" cx="388" cy="457.5" r="3.3"/><text class="n" x="388" y="459.1">1</text>
<circle class="c" cx="382.5" cy="465" r="3.3"/><text class="n" x="382.5" y="466.6">8</text>
<circle class="c" cx="389.5" cy="467" r="3.3"/><text class="n" x="389.5" y="468.6">3</text>
<circle class="c" cx="389" cy="474.7" r="3.3"/><text class="n" x="389" y="476.3">10</text>
<circle class="c" cx="382.7" cy="478.75" r="3.3"/><text class="n" x="382.7" y="480.35">5</text>
<circle class="c" cx="387.2" cy="482.7" r="3.3"/><text class="n" x="387.2" y="484.3">12</text>
<circle class="c" cx="382" cy="493.75" r="3.3"/><text class="n" x="382" y="495.35">7</text>
<circle class="c" cx="390" cy="492.5" r="3.3"/><text class="n" x="390" y="494.1">2</text>
<circle class="c" cx="390" cy="498.75" r="3.3"/><text class="n" x="390" y="500.35">9</text>
<circle class="c" cx="382.5" cy="503.75" r="3.3"/><text class="n" x="382.5" y="505.35">4</text>
<circle class="c" cx="383" cy="515" r="3.3"/><text class="n" x="383" y="516.6">11</text>
<circle class="c" cx="390" cy="516.25" r="3.3"/><text class="n" x="390" y="517.85">6</text>
<circle class="c" cx="427.5" cy="407" r="3.3"/><text class="n" x="427.5" y="408.6">1</text>
<circle class="c" cx="433.75" cy="412.5" r="3.3"/><text class="n" x="433.75" y="414.1">8</text>
<circle class="c" cx="430.75" cy="424.5" r="3.3"/><text class="n" x="430.75" y="426.1">3</text>
<circle class="c" cx="430.75" cy="434.25" r="3.3"/><text class="n" x="430.75" y="435.85">10</text>
<circle class="c" cx="431.75" cy="443.75" r="3.3"/><text class="n" x="431.75" y="445.35">5</text>
<circle class="c" cx="426.25" cy="456.25" r="3.3"/><text class="n" x="426.25" y="457.85">12</text>
<circle class="c" cx="433" cy="454.5" r="3.3"/><text class="n" x="433" y="456.1">7</text>
<circle class="c" cx="427.5" cy="465.75" r="3.3"/><text class="n" x="427.5" y="467.35">2</text>
<circle class="c" cx="435.5" cy="465" r="3.3"/><text class="n" x="435.5" y="466.6">9</text>
<circle class="c" cx="429.25" cy="471.6" r="3.3"/><text class="n" x="429.25" y="473.2">4</text>
<circle class="c" cx="437" cy="472.5" r="3.3"/><text class="n" x="437" y="474.1">11</text>
<circle class="c" cx="431" cy="479.8" r="3.3"/><text class="n" x="431" y="481.4">6</text>
<circle class="c" cx="426.25" cy="498.75" r="3.3"/><text class="n" x="426.25" y="500.35">1</text>
<circle class="c" cx="433.75" cy="497" r="3.3"/><text class="n" x="433.75" y="498.6">8</text>
<circle class="c" cx="429.5" cy="505" r="3.3"/><text class="n" x="429.5" y="506.6">3</text>
<circle class="c" cx="466.7" cy="499.4" r="3.3"/><text class="n" x="466.7" y="501">10</text>
<circle class="c" cx="462.5" cy="505.1" r="3.3"/><text class="n" x="462.5" y="506.7">5</text>
<circle class="c" cx="465.5" cy="508.8" r="3.3"/><text class="n" x="465.5" y="510.4">12</text>
<circle class="c" cx="459.9" cy="512.7" r="3.3"/><text class="n" x="459.9" y="514.3">7</text>
<circle class="c" cx="464.8" cy="514.3" r="3.3"/><text class="n" x="464.8" y="515.9">2</text>
<circle class="c" cx="469.3" cy="512.9" r="3.3"/><text class="n" x="469.3" y="514.5">9</text>
<circle class="c" cx="460.6" cy="518.7" r="3.3"/><text class="n" x="460.6" y="520.3">4</text>
<circle class="c" cx="465.8" cy="518.7" r="3.3"/><text class="n" x="465.8" y="520.3">11</text>
<circle class="c" cx="460.8" cy="526" r="3.3"/><text class="n" x="460.8" y="527.6">6</text>
<circle class="c" cx="468" cy="525.4" r="3.3"/><text class="n" x="468" y="527">1</text>
<circle class="c" cx="463.1" cy="531.5" r="3.3"/><text class="n" x="463.1" y="533.1">8</text>
<circle class="c" cx="468.6" cy="531.9" r="3.3"/><text class="n" x="468.6" y="533.5">3</text>
<circle class="c" cx="466.6" cy="536.9" r="3.3"/><text class="n" x="466.6" y="538.5">10</text>
<circle class="c" cx="459.7" cy="537.9" r="3.3"/><text class="n" x="459.7" y="539.5">5</text>
<circle class="c" cx="466.5" cy="542.9" r="3.3"/><text class="n" x="466.5" y="544.5">12</text>
<circle class="c" cx="459.3" cy="545.5" r="3.3"/><text class="n" x="459.3" y="547.1">7</text>
<circle class="c" cx="491.7" cy="538.1" r="3.3"/><text class="n" x="491.7" y="539.7">2</text>
<circle class="c" cx="498.3" cy="536.4" r="3.3"/><text class="n" x="498.3" y="538">9</text>
<circle class="c" cx="503.8" cy="538.9" r="3.3"/><text class="n" x="503.8" y="540.5">4</text>
<circle class="c" cx="508.5" cy="540.7" r="3.3"/><text class="n" x="508.5" y="542.3">11</text>
<circle class="c" cx="495.7" cy="541.8" r="3.3"/><text class="n" x="495.7" y="543.4">6</text>
<circle class="c" cx="501.6" cy="542.6" r="3.3"/><text class="n" x="501.6" y="544.2">1</text>
<circle class="c" cx="493.2" cy="550.3" r="3.3"/><text class="n" x="493.2" y="551.9">8</text>
<circle class="c" cx="499.8" cy="549.8" r="3.3"/><text class="n" x="499.8" y="551.4">3</text>
<circle class="c" cx="506.2" cy="550.3" r="3.3"/><text class="n" x="506.2" y="551.9">10</text>
<circle class="c" cx="494.5" cy="553.8" r="3.3"/><text class="n" x="494.5" y="555.4">5</text>
<circle class="c" cx="490" cy="555.8" r="3.3"/><text class="n" x="490" y="557.4">12</text>
<circle class="c" cx="496.6" cy="556.8" r="3.3"/><text class="n" x="496.6" y="558.4">7</text>
<circle class="c" cx="503.6" cy="555.8" r="3.3"/><text class="n" x="503.6" y="557.4">2</text>
<circle class="c" cx="509" cy="555.8" r="3.3"/><text class="n" x="509" y="557.4">9</text>
<line class="ax" x1="334.25" y1="495.75" x2="363.75" y2="495.75" stroke-width="3"/>
<line class="ax" x1="375" y1="489.25" x2="403.75" y2="489.25" stroke-width="3"/>
<line class="ax" x1="417.5" y1="462.25" x2="447.5" y2="462.25" stroke-width="3"/>
<line class="ax" x1="449.75" y1="521" x2="479.25" y2="521" stroke-width="3"/>
<line class="ax" x1="484.6" y1="546.1" x2="513" y2="546.1" stroke-width="3"/>
</g>
<g>
<line class="ax" x1="326.9" y1="619.1" x2="327.2" y2="861.3" stroke-width="1.8"/>
<line class="ax" x1="326.5" y1="860.5" x2="510" y2="860.5" stroke-width="1.5"/>
<line class="ax" x1="324.85" y1="658.1" x2="326.95" y2="658.1" stroke-width="0.9"/>
<text class="k" style="font-size:5.1px" x="324.95" y="659.6">40</text>
<line class="ax" x1="324.91" y1="709.1" x2="327.01" y2="709.1" stroke-width="0.9"/>
<text class="k" style="font-size:5.1px" x="325.01" y="710.6">30</text>
<line class="ax" x1="324.97" y1="759.1" x2="327.07" y2="759.1" stroke-width="0.9"/>
<text class="k" style="font-size:5.1px" x="325.07" y="760.6">20</text>
<line class="ax" x1="325.04" y1="809" x2="327.14" y2="809" stroke-width="0.9"/>
<text class="k" style="font-size:5.1px" x="325.14" y="810.5">10</text>
<line class="ax" x1="325.1" y1="859.5" x2="327.2" y2="859.5" stroke-width="0.9"/>
<text class="k" style="font-size:5.1px" x="325.2" y="861">0</text>
<text class="y" transform="translate(315 730) rotate(-90)">% binding</text>
<text class="t" style="font-size:8.8px" x="485" y="618.7">ICAM-1</text>
<text class="t" x="485.4" y="627">+</text>
<text class="t" x="484" y="636">ELC</text>
<text class="p" x="409" y="633">P &lt; 0.05</text>
<path class="ax" stroke-width="1.3" d="M386.4 641.6 V638 H433.5 V641.6"/>
<text class="x" x="349.3" y="871.1">A</text>
<text class="x" x="388.5" y="871.1">B</text>
<text class="x" x="427.7" y="871.1">C</text>
<text class="x" x="465" y="870">C</text>
<text class="x" style="font-size:6.2px;stroke-width:0.5" x="465" y="876.2">+</text>
<text class="x" x="465" y="882.8">PT</text>
<text class="x" x="496.5" y="870">C</text>
<text class="x" style="font-size:6.2px;stroke-width:0.5" x="496.5" y="876.2">+</text>
<text class="x" x="496.5" y="882.8">CD18 Ab</text>
<rect x="345.95" y="788.95" width="4.6" height="4.6" fill="#0a0a0a"/>
<rect x="348.95" y="793.45" width="4.6" height="4.6" fill="#0a0a0a"/>
<rect x="344.7" y="796.45" width="4.6" height="4.6" fill="#0a0a0a"/>
<rect x="345.95" y="805.2" width="4.6" height="4.6" fill="#0a0a0a"/>
<rect x="349.7" y="805.2" width="4.6" height="4.6" fill="#0a0a0a"/>
<rect x="344.7" y="810.2" width="4.6" height="4.6" fill="#0a0a0a"/>
<rect x="344.7" y="814.45" width="4.6" height="4.6" fill="#0a0a0a"/>
<rect x="349.7" y="814.45" width="4.6" height="4.6" fill="#0a0a0a"/>
<circle class="c" cx="390" cy="753" r="3.3"/><text class="n" x="390" y="754.6">1</text>
<circle class="c" cx="384.5" cy="758" r="3.3"/><text class="n" x="384.5" y="759.6">8</text>
<circle class="c" cx="388.75" cy="768.25" r="3.3"/><text class="n" x="388.75" y="769.85">3</text>
<circle class="c" cx="384.5" cy="778.4" r="3.3"/><text class="n" x="384.5" y="780">10</text>
<circle class="c" cx="384.5" cy="788.4" r="3.3"/><text class="n" x="384.5" y="790">5</text>
<circle class="c" cx="385.5" cy="797" r="3.3"/><text class="n" x="385.5" y="798.6">12</text>
<circle class="c" cx="392.5" cy="798.75" r="3.3"/><text class="n" x="392.5" y="800.35">7</text>
<circle class="c" cx="381.25" cy="806.25" r="3.3"/><text class="n" x="381.25" y="807.85">2</text>
<circle class="c" cx="389.25" cy="806.25" r="3.3"/><text class="n" x="389.25" y="807.85">9</text>
<circle class="c" cx="384.5" cy="814.25" r="3.3"/><text class="n" x="384.5" y="815.85">4</text>
<circle class="c" cx="390.75" cy="822.5" r="3.3"/><text class="n" x="390.75" y="824.1">11</text>
<circle class="c" cx="384.5" cy="828" r="3.3"/><text class="n" x="384.5" y="829.6">6</text>
<circle class="c" cx="429.25" cy="710" r="3.3"/><text class="n" x="429.25" y="711.6">1</text>
<circle class="c" cx="428.25" cy="721.25" r="3.3"/><text class="n" x="428.25" y="722.85">8</text>
<circle class="c" cx="429.25" cy="728.75" r="3.3"/><text class="n" x="429.25" y="730.35">3</text>
<circle class="c" cx="429" cy="744.3" r="3.3"/><text class="n" x="429" y="745.9">10</text>
<circle class="c" cx="429" cy="757.8" r="3.3"/><text class="n" x="429" y="759.4">5</text>
<circle class="c" cx="425.2" cy="763.1" r="3.3"/><text class="n" x="425.2" y="764.7">12</text>
<circle class="c" cx="429.8" cy="765.5" r="3.3"/><text class="n" x="429.8" y="767.1">7</text>
<circle class="c" cx="430.5" cy="773.2" r="3.3"/><text class="n" x="430.5" y="774.8">2</text>
<circle class="c" cx="425.2" cy="776" r="3.3"/><text class="n" x="425.2" y="777.6">9</text>
<circle class="c" cx="425.2" cy="784.7" r="3.3"/><text class="n" x="425.2" y="786.3">4</text>
<circle class="c" cx="431.9" cy="787.6" r="3.3"/><text class="n" x="431.9" y="789.2">11</text>
<circle class="c" cx="426.6" cy="793.4" r="3.3"/><text class="n" x="426.6" y="795">6</text>
<circle class="c" cx="425.2" cy="804.9" r="3.3"/><text class="n" x="425.2" y="806.5">1</text>
<circle class="c" cx="431.9" cy="806.3" r="3.3"/><text class="n" x="431.9" y="807.9">8</text>
<circle class="c" cx="429" cy="812.6" r="3.3"/><text class="n" x="429" y="814.2">3</text>
<circle class="c" cx="461.25" cy="788.75" r="3.3"/><text class="n" x="461.25" y="790.35">10</text>
<circle class="c" cx="462.25" cy="794" r="3.3"/><text class="n" x="462.25" y="795.6">5</text>
<circle class="c" cx="468" cy="794.5" r="3.3"/><text class="n" x="468" y="796.1">12</text>
<circle class="c" cx="468.5" cy="799.25" r="3.3"/><text class="n" x="468.5" y="800.85">7</text>
<circle class="c" cx="463.75" cy="802.25" r="3.3"/><text class="n" x="463.75" y="803.85">2</text>
<circle class="c" cx="468.5" cy="806.25" r="3.3"/><text class="n" x="468.5" y="807.85">9</text>
<circle class="c" cx="464.25" cy="810.5" r="3.3"/><text class="n" x="464.25" y="812.1">4</text>
<circle class="c" cx="465.25" cy="816.25" r="3.3"/><text class="n" x="465.25" y="817.85">11</text>
<circle class="c" cx="469" cy="819.5" r="3.3"/><text class="n" x="469" y="821.1">6</text>
<circle class="c" cx="462" cy="821.5" r="3.3"/><text class="n" x="462" y="823.1">1</text>
<circle class="c" cx="468" cy="826.75" r="3.3"/><text class="n" x="468" y="828.35">8</text>
<circle class="c" cx="461" cy="829.5" r="3.3"/><text class="n" x="461" y="831.1">3</text>
<circle class="c" cx="464.25" cy="835.5" r="3.3"/><text class="n" x="464.25" y="837.1">10</text>
<circle class="c" cx="469.5" cy="838.25" r="3.3"/><text class="n" x="469.5" y="839.85">5</text>
<circle class="c" cx="461.25" cy="842" r="3.3"/><text class="n" x="461.25" y="843.6">12</text>
<circle class="c" cx="468" cy="844.5" r="3.3"/><text class="n" x="468" y="846.1">7</text>
<circle class="c" cx="499.75" cy="836.75" r="3.3"/><text class="n" x="499.75" y="838.35">2</text>
<circle class="c" cx="490.25" cy="842" r="3.3"/><text class="n" x="490.25" y="843.6">9</text>
<circle class="c" cx="496" cy="841.5" r="3.3"/><text class="n" x="496" y="843.1">4</text>
<circle class="c" cx="502.75" cy="841.25" r="3.3"/><text class="n" x="502.75" y="842.85">11</text>
<circle class="c" cx="507" cy="844" r="3.3"/><text class="n" x="507" y="845.6">6</text>
<circle class="c" cx="493" cy="848.75" r="3.3"/><text class="n" x="493" y="850.35">1</text>
<circle class="c" cx="499.75" cy="848.75" r="3.3"/><text class="n" x="499.75" y="850.35">8</text>
<circle class="c" cx="505.5" cy="849.25" r="3.3"/><text class="n" x="505.5" y="850.85">3</text>
<circle class="c" cx="487.25" cy="853.75" r="3.3"/><text class="n" x="487.25" y="855.35">10</text>
<circle class="c" cx="493" cy="854.5" r="3.3"/><text class="n" x="493" y="856.1">5</text>
<circle class="c" cx="499.75" cy="854.5" r="3.3"/><text class="n" x="499.75" y="856.1">12</text>
<circle class="c" cx="506.5" cy="853.75" r="3.3"/><text class="n" x="506.5" y="855.35">7</text>
<line class="ax" x1="334.25" y1="804.5" x2="364.5" y2="804.5" stroke-width="3"/>
<line class="ax" x1="372.5" y1="795.75" x2="402" y2="795.75" stroke-width="3"/>
<line class="ax" x1="413.75" y1="768" x2="443" y2="768" stroke-width="3"/>
<line class="ax" x1="449.75" y1="816.25" x2="479.5" y2="816.25" stroke-width="3"/>
<line class="ax" x1="480.5" y1="846.5" x2="509.75" y2="846.5" stroke-width="3"/>
</g>
</svg>
</body></html>
